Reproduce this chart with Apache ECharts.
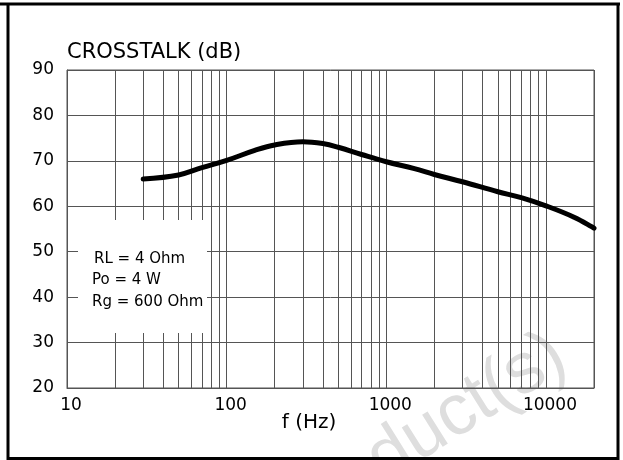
<!DOCTYPE html>
<html>
<head>
<meta charset="utf-8">
<script src="https://cdn.jsdelivr.net/npm/echarts@6/dist/echarts.min.js"></script>
<style>
  html, body { margin:0; padding:0; background:#fff; }
  #myChart { width:623px; height:460px; }
</style>
</head>
<body>
<div id="myChart"></div>
<script>
// crosstalk vs frequency
var freqs = [30, 50, 70, 100, 150, 200, 300, 400, 500, 700, 1000, 1500, 2000, 3000, 5000, 7000, 10000, 15000, 20000];
var crosstalk = [66.0, 66.9, 68.5, 70.1, 72.3, 73.5, 74.2, 73.8, 73.0, 71.4, 69.8, 68.3, 67.0, 65.4, 63.2, 61.9, 60.1, 57.6, 55.2];
var xTickLabels = [10, 100, 1000, 10000];
var yTicks = [20, 30, 40, 50, 60, 70, 80, 90];
var minorFreqs = [20, 30, 40, 50, 60, 70, 80, 90,
                  200, 300, 400, 500, 600, 700, 800, 900,
                  2000, 3000, 4000, 5000, 6000, 7000, 8000, 9000];
var notes = ['RL = 4 Ohm', 'Po = 4 W', 'Rg = 600 Ohm'];

var FONT = '"DejaVu Sans", sans-serif';
var GRID = '#555';

var myChart = echarts.init(document.getElementById('myChart'));

var option = {
  backgroundColor: '#fff',
  animation: false,
  title: {
    text: 'CROSSTALK (dB)',
    left: 62,
    top: 37,
    textStyle: { fontFamily: FONT, fontSize: 21, fontWeight: 'normal', color: '#000' }
  },
  grid: {
    left: 67, right: 29, top: 70, bottom: 72,
    show: true, borderColor: GRID, borderWidth: 1
  },
  xAxis: {
    type: 'log',
    logBase: 10,
    min: 10,
    max: 20000,
    axisLine: { lineStyle: { color: GRID, width: 1 } },
    axisTick: { show: false },
    splitLine: { show: true, lineStyle: { color: GRID, width: 1 } },
    axisLabel: {
      margin: 9,
      padding: [0, 0, 0, 8],
      fontFamily: FONT, fontSize: 17, color: '#000',
      showMaxLabel: false,
      formatter: function (v) {
        return xTickLabels.indexOf(Math.round(v)) >= 0 ? String(Math.round(v)) : '';
      }
    }
  },
  yAxis: {
    type: 'value',
    min: yTicks[0],
    max: yTicks[yTicks.length - 1],
    interval: 10,
    axisLine: { show: true, lineStyle: { color: GRID, width: 1 } },
    axisTick: { show: false },
    splitLine: { show: true, lineStyle: { color: GRID, width: 1 } },
    axisLabel: { margin: 13, fontFamily: FONT, fontSize: 17, color: '#000' }
  },
  graphic: [
    // watermark
    {
      type: 'text', z: -1,
      x: 560, y: 350,
      rotation: 32 * Math.PI / 180,
      style: {
        text: 'Product(s)',
        font: '72px "Liberation Sans", Arial, sans-serif',
        fill: '#dedede',
        textAlign: 'right',
        textVerticalAlign: 'middle'
      }
    },
    // white box behind the test conditions
    { type: 'rect', z: 20, shape: { x: 78, y: 220, width: 129, height: 113 }, style: { fill: '#fff' } },
    { type: 'text', z: 21, x: 94, y: 259, style: { text: notes[0], font: '15px ' + FONT, fill: '#000', textVerticalAlign: 'middle' } },
    { type: 'text', z: 21, x: 92, y: 280, style: { text: notes[1], font: '15px ' + FONT, fill: '#000', textVerticalAlign: 'middle' } },
    { type: 'text', z: 21, x: 92, y: 302, style: { text: notes[2], font: '15px ' + FONT, fill: '#000', textVerticalAlign: 'middle' } },
    // x axis name
    { type: 'text', z: 21, x: 309, y: 423, style: { text: 'f (Hz)', font: '20px ' + FONT, fill: '#000', textAlign: 'center', textVerticalAlign: 'middle' } },
    // outer frame
    { type: 'line', z: 30, shape: { x1: 0, y1: 4, x2: 620, y2: 4 }, style: { stroke: '#000', lineWidth: 3 } },
    { type: 'line', z: 30, shape: { x1: 8, y1: 4, x2: 8, y2: 460 }, style: { stroke: '#000', lineWidth: 3 } },
    { type: 'line', z: 30, shape: { x1: 618, y1: 4, x2: 618, y2: 460 }, style: { stroke: '#000', lineWidth: 3 } },
    { type: 'line', z: 30, shape: { x1: 8, y1: 458.5, x2: 619, y2: 458.5 }, style: { stroke: '#000', lineWidth: 3 } }
  ],
  series: [
    {
      // minor vertical grid lines (2..9 per decade)
      type: 'line',
      z: 1,
      data: [],
      markLine: {
        z: 1,
        silent: true,
        symbol: 'none',
        label: { show: false },
        lineStyle: { color: GRID, width: 1, type: 'solid' },
        data: minorFreqs.map(function (f) { return { xAxis: f }; })
      }
    },
    {
      name: 'crosstalk',
      type: 'line',
      z: 3,
      smooth: 0.4,
      showSymbol: false,
      lineStyle: { color: '#000', width: 5, cap: 'round' },
      data: freqs.map(function (f, i) { return [f, crosstalk[i]]; })
    }
  ]
};

myChart.setOption(option);
</script>
</body>
</html>
